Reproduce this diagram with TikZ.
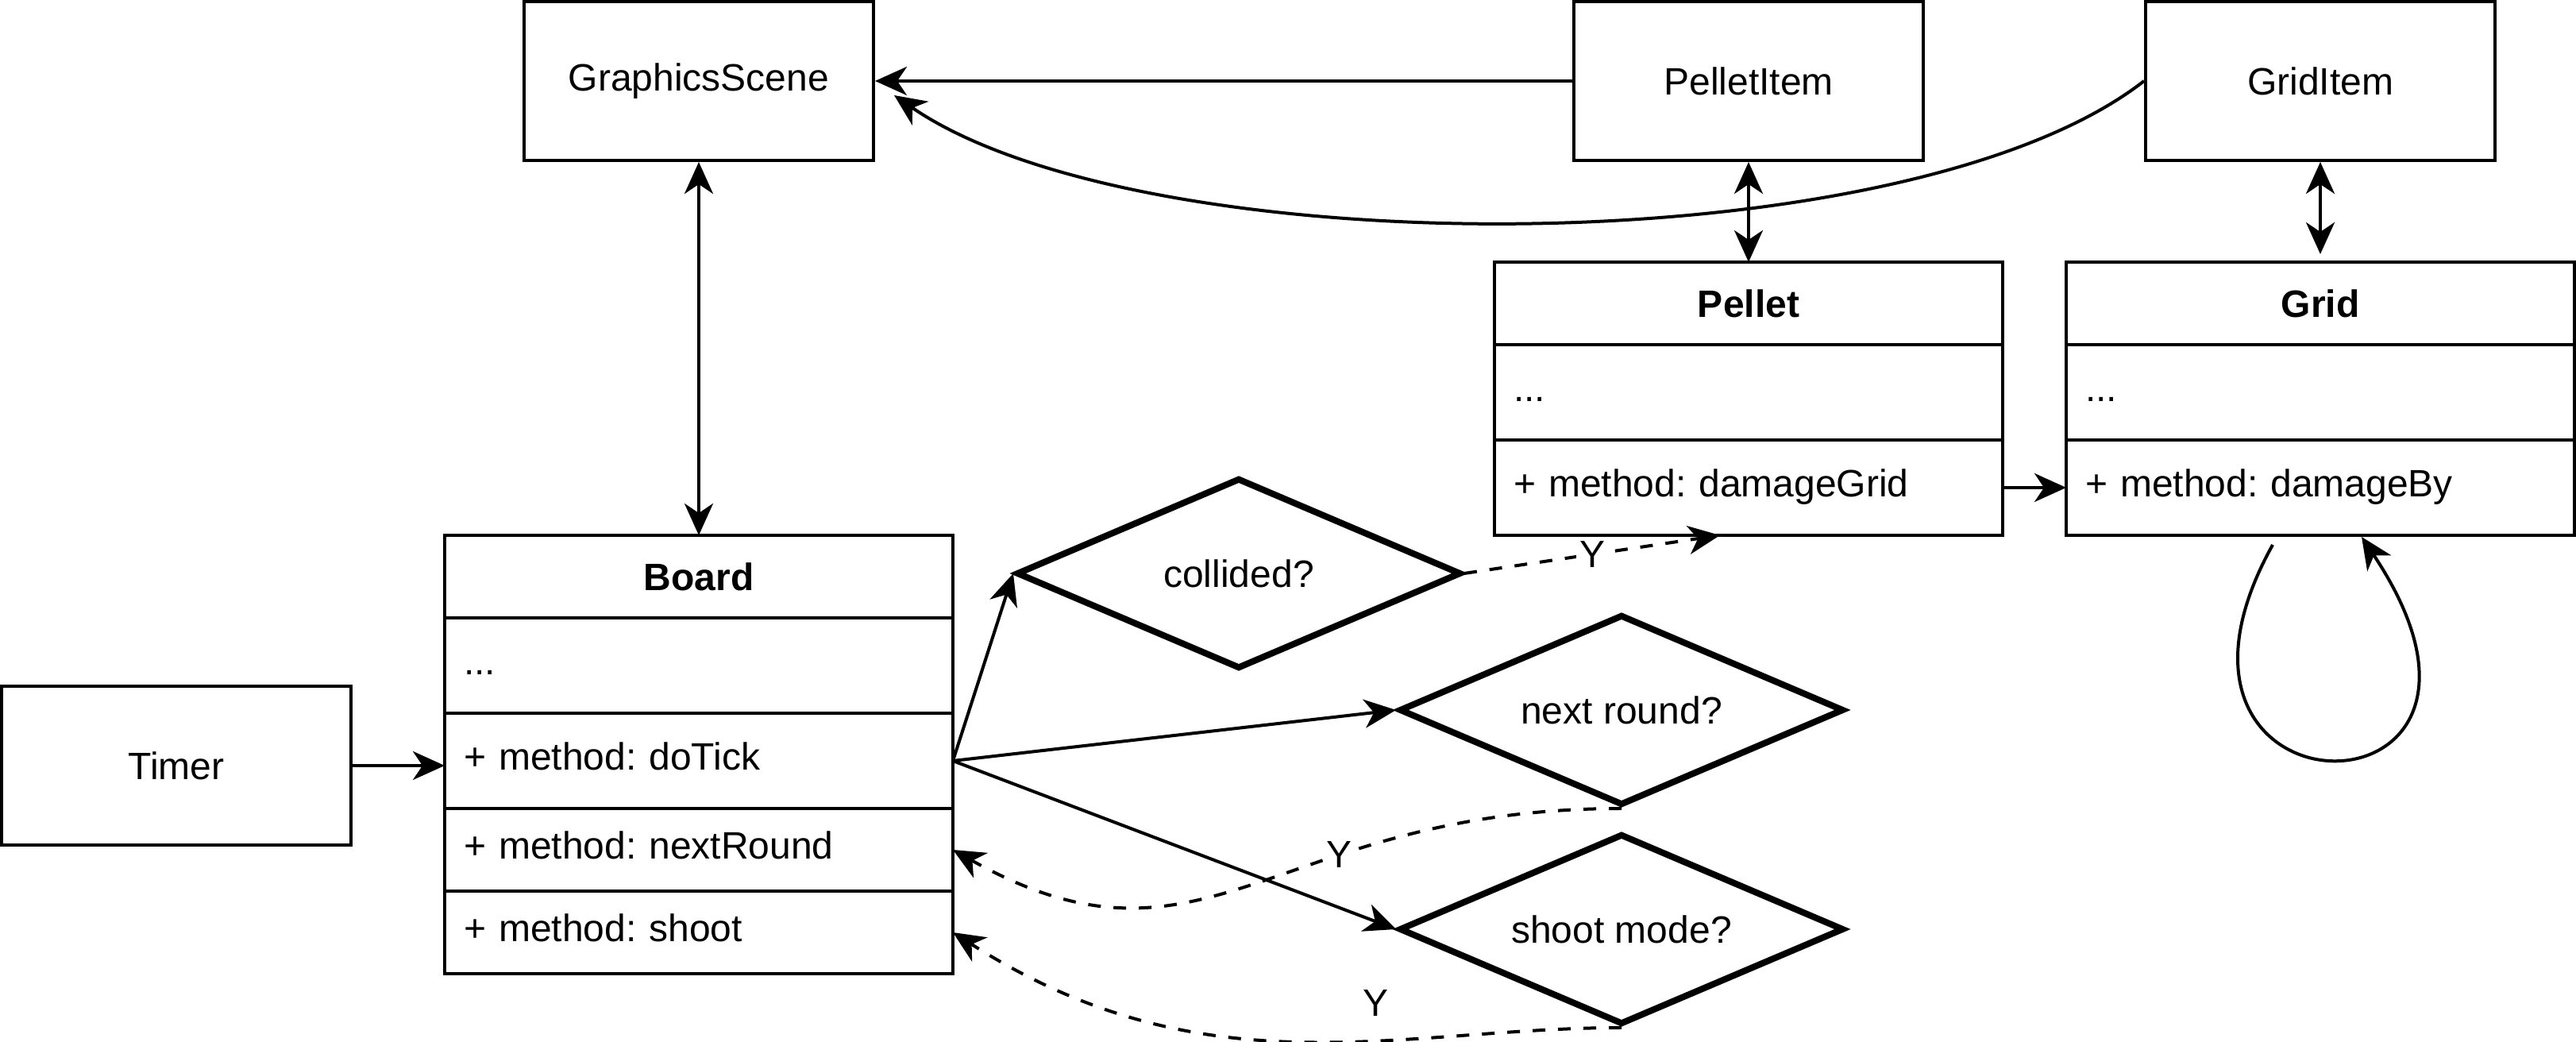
\documentclass[tikz,border=0pt]{standalone}
\usepackage{fontspec}
\setmainfont{Liberation Sans}
\frenchspacing
\usetikzlibrary{shapes.geometric, arrows.meta, positioning}
\tikzstyle{block} = [rectangle, draw=black, line width=1pt, minimum width=110pt, minimum height=50pt, text centered]
\tikzstyle{classhead} = [rectangle, draw=black, line width=1pt, outer sep=0pt, minimum width=160pt, minimum height=26pt, text centered]
\tikzstyle{classrow} = [rectangle, draw=black, line width=1pt, outer sep=0pt, minimum width=160pt, text width=148pt, inner xsep=6pt, align=left, text height=8.5pt, text depth=2.5pt]
\tikzstyle{decision} = [diamond, draw=black, line width=2pt, minimum width=140pt, minimum height=60pt, aspect=2.33, inner sep=0pt, text centered]
\tikzstyle{arrow} = [line width=1pt, ->, >={Stealth[length=10pt, width=9pt, inset=3pt]}]
\tikzstyle{dblarrow} = [arrow, <->]
\tikzstyle{yesarrow} = [arrow, dash pattern=on 4pt off 4pt]
\tikzstyle{ylab} = [fill=white, inner sep=1pt]

\begin{document}
\begin{tikzpicture}[x=1pt, y=-1pt, font=\fontsize{12pt}{14pt}\selectfont]
    \useasboundingbox (0,0) rectangle (811,328);

    \node (gscene) [block] at (220,25.5) {GraphicsScene};
    \node (pitem) [block] at (550.5,25.5) {PelletItem};
    \node (gitem) [block] at (730.5,25.5) {GridItem};
    \node (timer) [block] at (55.5,241) {Timer};

    % Board
    \node (board) [classhead] at (220,181.5) {\textbf{Board}};
    \node (battr) [classrow, minimum height=30pt, below=0pt of board] {...};
    \node (btick) [classrow, minimum height=30pt, below=0pt of battr] {+ method: doTick};
    \node (bnext) [classrow, minimum height=26pt, below=0pt of btick] {+ method: nextRound};
    \node (bshoot) [classrow, minimum height=26pt, below=0pt of bnext] {+ method: shoot};

    % Pellet
    \node (pellet) [classhead] at (550.5,95.5) {\textbf{Pellet}};
    \node (pattr) [classrow, minimum height=30pt, below=0pt of pellet] {...};
    \node (pmeth) [classrow, minimum height=30pt, below=0pt of pattr] {+ method: damageGrid};

    % Grid
    \node (grid) [classhead] at (730.5,95.5) {\textbf{Grid}};
    \node (gattr) [classrow, minimum height=30pt, below=0pt of grid] {...};
    \node (gmeth) [classrow, minimum height=30pt, below=0pt of gattr] {+ method: damageBy};

    \node (collided) [decision] at (390,180.5) {collided?};
    \node (nextround) [decision] at (510.5,223.5) {next round?};
    \node (shootmode) [decision] at (510.5,292.5) {shoot mode?};

    % Arrows
    \draw [arrow] (timer.east) -- (timer.east -| btick.west);
    \draw [arrow] (btick.east) -- (collided.west);
    \draw [arrow] (btick.east) -- (nextround.west);
    \draw [arrow] (btick.east) -- (shootmode.west);
    \draw [arrow] (pmeth.east) -- (gmeth.west);
    \draw [arrow] (pitem.west) -- (gscene.east);
    \draw [arrow] (gitem.west) .. controls (600,84) and (360,84) .. ([shift={(6,4.5)}]gscene.east);
    \draw [dblarrow] (gscene) -- (board);
    \draw [dblarrow] (pitem) -- (pellet);
    \draw [dblarrow] (gitem) -- ([yshift=2.5pt]grid.north);
    \draw [arrow] ([shift={(-15,3)}]gmeth.south) .. controls +(-50,90) and +(62,93) .. ([shift={(13,0.5)}]gmeth.south);
    \draw [yesarrow] (collided.east) -- node[ylab] {Y} ([xshift=-9pt]pmeth.south);
    \draw [yesarrow] (nextround.south) .. controls +(-110,0) and +(80,45) .. (bnext.east) node[ylab, pos=0.35] {Y};
    \draw [yesarrow] (shootmode.south) .. controls +(-70,0) and +(80,51) .. (bshoot.east) node[ylab, pos=0.38, fill=none, above=6pt] {Y};

\end{tikzpicture}
\end{document}
